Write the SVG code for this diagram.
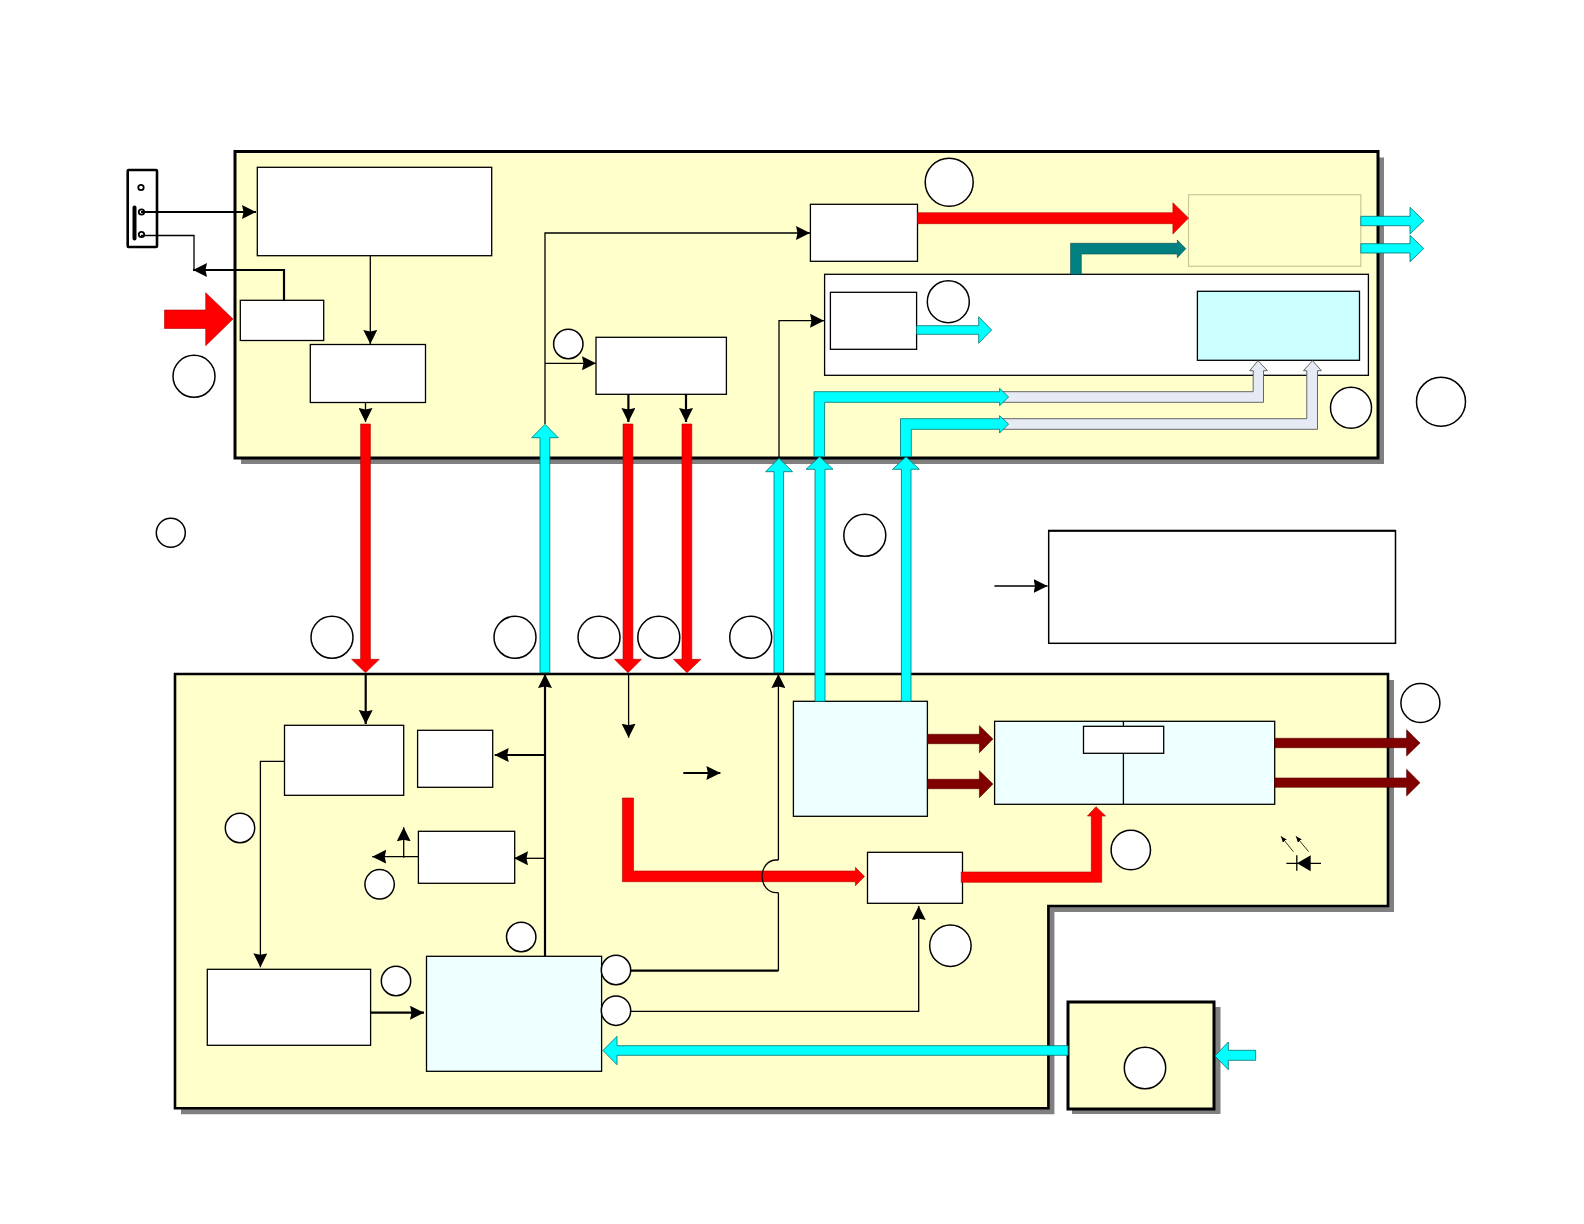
<svg xmlns="http://www.w3.org/2000/svg" width="1584" height="1224" viewBox="0 0 1584 1224">
<style>
.panel{fill:#ffffcc;stroke:#000;stroke-width:3;stroke-linejoin:miter}
.shadow{fill:#808080}
.box{fill:#fff;stroke:#000;stroke-width:1.3}
.pale{fill:#eeffff;stroke:#000;stroke-width:1.3}
.blue{fill:#ccffff;stroke:#000;stroke-width:1.3}
.badge{fill:#fff;stroke:#000;stroke-width:1.5}
.l1{fill:none;stroke:#000;stroke-width:1.3}
.l2{fill:none;stroke:#000;stroke-width:2.2}
.ah{marker-end:url(#a)}
.red{fill:#ff0000;stroke:#b00000;stroke-width:.6}
.cyan{fill:#00ffff;stroke:#007070;stroke-width:.8}
.maroon{fill:#800000;stroke:#500000;stroke-width:.6}
.teal{fill:#008080;stroke:#004848;stroke-width:.6}
.grey{fill:#e6eaf5;stroke:#666;stroke-width:1}
</style>
<defs>
<marker id="a" markerUnits="userSpaceOnUse" markerWidth="14" markerHeight="14" viewBox="0 0 14 14" refX="14" refY="7" orient="auto"><path d="M0 0L14 7L0 14L1.500 7z" fill="#000"/></marker>
<marker id="s" markerUnits="userSpaceOnUse" markerWidth="6" markerHeight="5" viewBox="0 0 6 5" refX="6" refY="2.500" orient="auto"><path d="M0 0L6 2.500L0 5z" fill="#000"/></marker>
</defs>
<rect width="1584" height="1224" fill="#fff"/>

<g id="panels">
<g id="panel-top"><rect class="shadow" x="241" y="157.500" width="1143" height="306.500"/><rect class="panel" x="235" y="151.500" width="1143" height="306.500"/></g>
<g id="panel-bottom"><path class="shadow" d="M181 680H1394V912H1054.400V1114.300H181Z"/><path class="panel" style="stroke-width:2.6" d="M175 674H1388V906H1048.400V1108.300H175Z"/></g>
<g id="panel-small"><rect class="shadow" x="1072" y="1007" width="148.500" height="107"/><rect class="panel" x="1068" y="1002" width="146" height="107"/></g>
</g>

<g id="node-connector">
<rect x="127.700" y="170" width="29.300" height="77" rx="1" fill="#fff" stroke="#000" stroke-width="2.600"/>
<path d="M134.500 207.500V238.500" fill="none" stroke="#000" stroke-width="4" stroke-linecap="round"/>
<circle cx="141" cy="187.500" r="2.700" fill="#fff" stroke="#000" stroke-width="1.800"/>
<circle cx="141.500" cy="212" r="2.700" fill="#fff" stroke="#000" stroke-width="1.800"/>
<circle cx="141.500" cy="234.500" r="2.700" fill="#fff" stroke="#000" stroke-width="1.800"/>
</g>
<g id="node-a"><rect class="box" x="257.300" y="167.300" width="234.400" height="88.400"/></g>
<g id="node-b"><rect class="box" x="240.300" y="300.300" width="83.400" height="40.200"/></g>
<g id="node-c"><rect class="box" x="310.300" y="344.500" width="115.200" height="58"/></g>
<g id="node-d"><rect class="box" x="596" y="337.300" width="130.400" height="57"/></g>
<g id="node-e"><rect class="box" x="810.400" y="204.300" width="107.100" height="57"/></g>
<g id="node-f"><rect x="1188.500" y="194.700" width="172.300" height="71.600" fill="#ffffcc" stroke="#c8c89a" stroke-width="1.200"/></g>
<g id="node-g"><rect class="box" x="824.600" y="274.300" width="543.800" height="101"/></g>
<g id="node-h"><rect class="box" x="830.400" y="292.300" width="86.200" height="57"/></g>
<g id="node-i"><rect class="blue" x="1197.400" y="291.300" width="162.100" height="69"/></g>
<g id="node-note"><rect x="1048.700" y="530.700" width="346.800" height="112.600" fill="#fff" stroke="#000" stroke-width="1.500"/><path d="M1048 530.700H1395.500" stroke="#000" stroke-width="2" fill="none"/></g>
<g id="node-k"><rect class="box" x="284.500" y="725.300" width="119.200" height="70"/></g>
<g id="node-l"><rect class="box" x="417.600" y="730.300" width="75.100" height="57"/></g>
<g id="node-m"><rect class="box" x="418.400" y="831.300" width="96.300" height="52"/></g>
<g id="node-n"><rect class="box" x="207.300" y="969.300" width="163.300" height="76"/></g>
<g id="node-p"><rect class="pale" x="426.500" y="956.300" width="175.100" height="115"/></g>
<g id="node-j"><rect class="pale" x="793.400" y="701.300" width="134" height="115"/></g>
<g id="node-r"><rect class="pale" x="994.600" y="721.300" width="280.100" height="83"/><path class="l1" d="M1123.400 721.300V804.300"/><rect class="box" x="1083.500" y="726.300" width="80.200" height="27"/></g>
<g id="node-q"><rect class="box" x="867.500" y="852.300" width="95" height="51"/></g>

<g id="connectors">
<path class="l2 ah" d="M141 212H256"/>
<path class="l1" d="M141 235.500H194V270"/>
<path class="l2 ah" d="M284 300V270H193"/>
<path class="l1 ah" d="M370.300 255.700V344"/>
<path class="l1 ah" d="M365.500 402V422"/>
<path class="l1 ah" d="M545 424V233H810"/>
<path class="l1 ah" d="M545 363.300H596"/>
<path class="l2 ah" d="M628.400 394V422"/>
<path class="l2 ah" d="M686 394V422"/>
<path class="l1 ah" d="M779 458V320.700H824"/>
<path class="l1 ah" d="M994.400 586H1047.500"/>
<path class="l2 ah" d="M365.700 674V724"/>
<path class="l2 ah" d="M545 956V674"/>
<path class="l2 ah" d="M545 755H494.700"/>
<path class="l1 ah" d="M545 858.300H514"/>
<path class="l1 ah" d="M418.400 856.700H372.200"/>
<path class="l1 ah" d="M403.700 857.700V827.300"/>
<path class="l1 ah" d="M284.500 761.300H260.400V967.300"/>
<path class="l2 ah" d="M370.600 1012.700H424"/>
<path class="l1 ah" d="M628.600 674V737.700"/>
<path class="l2 ah" d="M683.300 773H720.400"/>

<polygon class="red" points="164.500,310 205.700,310 205.700,292.700 233,319 205.700,345.700 205.700,328.500 164.500,328.500"/>
<polygon class="red" points="360.600,424 370.400,424 370.400,659.300 379.300,659.300 365.500,672.700 351.600,659.300 360.600,659.300"/>
<polygon class="cyan" points="540,672.700 540,437.700 531.700,437.700 545,424.300 558.300,437.700 549.800,437.700 549.800,672.700"/>
<polygon class="red" points="623,424 632.900,424 632.900,659.300 641.500,659.300 628,672.700 614.500,659.300 623,659.300"/>
<polygon class="red" points="682,424 691.800,424 691.800,659.300 701,659.300 687,672.700 673.500,659.300 682,659.300"/>
<polygon class="cyan" points="774,672.700 774,471.700 765.600,471.700 779,458.300 792.600,471.700 783.600,471.700 783.600,672.700"/>
<polygon class="cyan" points="815,701.300 815,469.300 806,469.300 819.700,456.700 833,469.300 825,469.300 825,701.300"/>
<polygon class="cyan" points="901.400,701.300 901.400,469.300 892.500,469.300 906,456.700 919.300,469.300 911,469.300 911,701.300"/>

<polygon class="red" points="917.500,212.700 1172.900,212.700 1172.900,202.700 1188.500,218 1172.900,234 1172.900,223.700 917.500,223.700"/>
<polygon class="cyan" points="1360.800,216.300 1410,216.300 1410,207.300 1423.800,220.700 1410,234 1410,225.700 1360.800,225.700"/>
<polygon class="cyan" points="1360.800,243.700 1410,243.700 1410,235.300 1423.800,248.500 1410,261.700 1410,253 1360.800,253"/>
<polygon class="teal" points="1070.600,274.300 1070.600,243.300 1177.300,243.300 1177.300,240 1185.800,248.700 1177.300,257.700 1177.300,254 1081.300,254 1081.300,274.300"/>
<polygon class="cyan" points="916.600,325.700 978.700,325.700 978.700,316.700 991.600,330 978.700,343.300 978.700,334.300 916.600,334.300"/>

<polygon class="grey" points="1000,391.700 1253.200,391.700 1253.200,370.700 1249.600,370.700 1258,360.700 1267.500,370.700 1263.500,370.700 1263.500,402.300 1000,402.300"/>
<polygon class="grey" points="1000,418.700 1306.800,418.700 1306.800,370.700 1303.400,370.700 1312.500,360.700 1321.400,370.700 1317.500,370.700 1317.500,429.300 1000,429.300"/>
<polygon class="cyan" points="814,456.700 814,391.700 999.600,391.700 999.600,388.300 1008.600,397 999.600,405.700 999.600,402.300 824.600,402.300 824.600,456.700"/>
<polygon class="cyan" points="900.500,456.700 900.500,418.700 999.600,418.700 999.600,415.700 1008.600,424 999.600,433 999.600,429.300 911.300,429.300 911.300,456.700"/>

<polygon class="red" points="622.400,798 633.500,798 633.500,871 855.400,871 855.400,867.300 864.500,876.500 855.400,885.700 855.400,881.700 622.400,881.700"/>
<polygon class="red" points="961.200,872 1091.300,872 1091.300,816 1087.400,816 1096,806.700 1105.600,816 1101.700,816 1101.700,882.300 961.200,882.300"/>
<path class="l1" d="M778.400 892.700H776A14 16.350 0 0 1 776 860H778.400"/>
<path class="l1 ah" d="M778.400 860V674"/>
<path class="l2" d="M630.600 970.700H778.400"/>
<path class="l1" d="M778.400 970.700V892.700"/>
<path class="l1 ah" d="M630.600 1011.300H918.700V906"/>
<polygon class="cyan" points="1068,1045.700 617,1045.700 617,1036.300 602.900,1050.500 617,1064.700 617,1055.300 1068,1055.300"/>
<polygon class="cyan" points="1255.700,1050.300 1228.300,1050.300 1228.300,1042 1215,1056 1228.300,1069.700 1228.300,1060.300 1255.700,1060.300"/>
<polygon class="maroon" points="927.400,734.300 979.400,734.300 979.400,725.700 992.900,739 979.400,752.700 979.400,743.700 927.400,743.700"/>
<polygon class="maroon" points="927.400,779.300 979.400,779.300 979.400,770.700 992.900,784 979.400,797.700 979.400,788.700 927.400,788.700"/>
<polygon class="maroon" points="1274.700,738.300 1406.600,738.300 1406.600,729.700 1420,743 1406.600,756 1406.600,747.700 1274.700,747.700"/>
<polygon class="maroon" points="1274.700,778 1406.600,778 1406.600,769.300 1420,782.700 1406.600,796 1406.600,787.300 1274.700,787.300"/>
</g>

<g id="node-led">
<path class="l1" d="M1286.400 863.300H1321M1296.800 855.300V870.700"/>
<polygon points="1297,863.300 1310.700,855.300 1310.700,871.300" fill="#000"/>
<path d="M1293.400 851.700L1281 836.300" fill="none" stroke="#000" stroke-width=".8" marker-end="url(#s)"/>
<path d="M1308.600 851.700L1296 836.300" fill="none" stroke="#000" stroke-width=".8" marker-end="url(#s)"/>
</g>

<g id="badges">
<ellipse class="badge" cx="194" cy="376.300" rx="21" ry="21"/>
<ellipse class="badge" cx="568.300" cy="344" rx="14.700" ry="14.700"/>
<ellipse class="badge" cx="949.200" cy="182.300" rx="24" ry="24"/>
<ellipse class="badge" cx="948.300" cy="301.700" rx="21" ry="21"/>
<ellipse class="badge" cx="1351" cy="407.700" rx="20.500" ry="20.500"/>
<ellipse class="badge" cx="1441" cy="401.700" rx="24.500" ry="24.500"/>
<ellipse class="badge" cx="170.800" cy="532.700" rx="14.500" ry="14.500"/>
<ellipse class="badge" cx="864.800" cy="535.300" rx="21" ry="21"/>
<ellipse class="badge" cx="332" cy="637.300" rx="21" ry="21"/>
<ellipse class="badge" cx="515" cy="637.300" rx="21" ry="21"/>
<ellipse class="badge" cx="599" cy="637.300" rx="21" ry="21"/>
<ellipse class="badge" cx="658.800" cy="637.300" rx="21" ry="21"/>
<ellipse class="badge" cx="750.700" cy="637.300" rx="21" ry="21"/>
<ellipse class="badge" cx="240" cy="828" rx="14.700" ry="14.700"/>
<ellipse class="badge" cx="379.600" cy="884.300" rx="14.700" ry="14.700"/>
<ellipse class="badge" cx="521.200" cy="937" rx="14.700" ry="14.700"/>
<ellipse class="badge" cx="396" cy="981" rx="14.700" ry="14.700"/>
<ellipse class="badge" cx="616" cy="970" rx="14.700" ry="14.700"/>
<ellipse class="badge" cx="616" cy="1010.700" rx="14.700" ry="14.700"/>
<ellipse class="badge" cx="1420.400" cy="703" rx="19.500" ry="19.500"/>
<ellipse class="badge" cx="1130.800" cy="850" rx="19.700" ry="19.700"/>
<ellipse class="badge" cx="950.400" cy="945.700" rx="20.700" ry="20.700"/>
<ellipse class="badge" cx="1145" cy="1068" rx="20.700" ry="20.700"/>
</g>
</svg>
